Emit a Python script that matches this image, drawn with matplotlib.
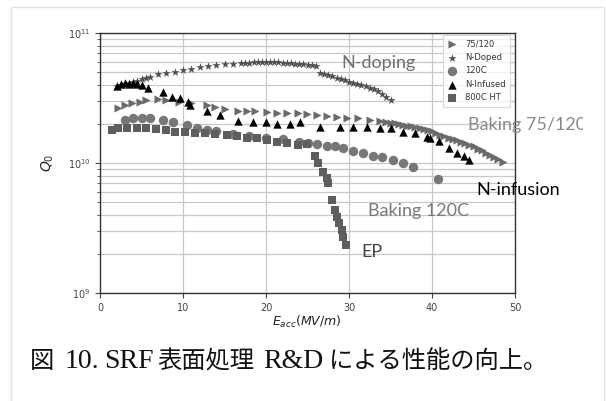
import matplotlib
matplotlib.use("Agg")
import matplotlib.pyplot as plt
from matplotlib.patches import Rectangle
from matplotlib.transforms import Bbox, TransformedBbox
from matplotlib.ticker import LogLocator, NullFormatter

# ---------------- data (Q0 in units of 1e10) ----------------
x_7512 = [2.2, 3.0, 3.8, 4.8, 5.6, 7.0, 8.0, 9.5, 11.0, 12.9, 13.9, 15.0, 16.6, 17.7, 18.7,
          20.1, 21.3, 22.5, 23.9, 24.9, 26.1, 27.3, 28.6, 29.8, 31.1, 32.5, 33.7, 34.5, 35.0,
          35.5, 36.0, 36.5, 37.0, 37.5, 38.0, 38.5, 39.0, 39.5, 40.0, 40.5, 41.0, 41.5, 42.0,
          42.5, 43.0, 43.5, 44.0, 44.5, 45.0, 45.5, 46.0, 46.5, 47.0, 47.5, 48.0, 48.5]
q_7512 = [2.65, 2.8, 2.9, 2.95, 3.05, 3.1, 3.05, 2.95, 2.88, 2.8, 2.7, 2.6, 2.5, 2.51, 2.5,
          2.47, 2.42, 2.42, 2.42, 2.38, 2.34, 2.3, 2.26, 2.22, 2.22, 2.14, 2.1, 2.07, 2.04,
          2.02, 2.0, 1.97, 1.94, 1.91, 1.88, 1.85, 1.82, 1.78, 1.75, 1.71, 1.64, 1.6, 1.56,
          1.53, 1.5, 1.46, 1.42, 1.38, 1.34, 1.29, 1.25, 1.2, 1.16, 1.11, 1.07, 1.02]

x_ndoped = [2.0, 2.5, 3.0, 3.5, 4.0, 4.5, 5.0, 5.5, 6.0, 7.0, 8.0, 9.0, 10.0, 11.0, 12.0, 13.0,
            14.0, 15.0, 16.0, 17.0, 17.5, 18.0, 18.5, 19.0, 19.5, 20.0, 20.5, 21.0, 21.5, 22.0,
            22.5, 23.0, 23.5, 24.0, 24.5, 25.0, 25.5, 26.0, 26.5, 27.0, 27.5, 28.0, 28.5, 29.0,
            29.5, 30.0, 30.5, 31.0, 31.5, 32.0, 32.5, 33.0, 33.5, 34.0, 34.5, 35.0]
q_ndoped = [3.9, 4.0, 4.05, 4.1, 4.2, 4.3, 4.4, 4.5, 4.6, 4.8, 4.95, 5.05, 5.2, 5.3, 5.45, 5.55,
            5.65, 5.75, 5.8, 5.85, 5.9, 5.9, 5.95, 5.95, 6.0, 6.0, 6.0, 5.95, 5.95, 5.9,
            5.9, 5.85, 5.8, 5.8, 5.75, 5.7, 5.65, 5.6, 4.9, 4.82, 4.73, 4.65, 4.5, 4.42,
            4.32, 4.22, 4.12, 4.05, 3.97, 3.88, 3.8, 3.7, 3.55, 3.4, 3.22, 3.05]

x_120c = [3.0, 4.0, 5.0, 6.0, 7.6, 8.8, 10.5, 11.7, 12.9, 14.0, 16.0, 18.0, 20.0, 22.0, 24.0,
          25.0, 26.1, 27.3, 28.3, 29.3, 30.5, 31.7, 32.9, 34.0, 35.3, 36.5, 37.7, 40.7]
q_120c = [2.14, 2.2, 2.2, 2.2, 2.14, 2.05, 1.97, 1.87, 1.8, 1.75, 1.68, 1.62, 1.57, 1.52, 1.46,
          1.43, 1.4, 1.36, 1.34, 1.31, 1.24, 1.19, 1.13, 1.11, 1.05, 1.0, 0.93, 0.75]

x_ninf = [2.0, 2.5, 3.0, 3.5, 4.0, 4.5, 5.0, 5.8, 7.6, 8.7, 9.6, 10.6, 10.8, 12.9, 14.5, 16.6,
          18.4, 20.0, 21.3, 22.9, 24.1, 26.5, 28.9, 30.5, 32.2, 33.7, 35.0, 36.5, 38.0, 39.4,
          39.8, 40.8, 42.0, 43.0, 43.8, 44.5]
q_ninf = [3.9, 4.05, 4.1, 4.05, 4.1, 4.05, 4.0, 3.8, 3.5, 3.2, 3.15, 2.95, 2.8, 2.5, 2.35, 2.1,
          2.05, 2.05, 2.0, 2.0, 2.05, 1.89, 1.9, 1.9, 1.88, 1.87, 1.85, 1.73, 1.7, 1.58,
          1.56, 1.48, 1.3, 1.2, 1.13, 1.05]

x_800 = [1.4, 2.2, 3.2, 4.4, 5.6, 6.8, 8.0, 9.0, 10.2, 11.5, 12.7, 13.9, 15.3, 16.5, 17.7, 18.9,
         20.1, 21.3, 22.5, 23.9, 24.9, 25.9, 26.3, 26.9, 27.3, 27.5, 28.0, 28.3, 28.6, 28.8,
         29.2, 29.3, 29.6]
q_800 = [1.8, 1.85, 1.86, 1.87, 1.85, 1.83, 1.8, 1.74, 1.74, 1.7, 1.69, 1.68, 1.65, 1.6, 1.57, 1.55,
         1.5, 1.45, 1.43, 1.38, 1.4, 1.13, 1.0, 0.853, 0.767, 0.70, 0.519, 0.435, 0.384, 0.345,
         0.305, 0.27, 0.234]

labels = ["75/120", "N-Doped", "120C", "N-Infused", "800C HT"]
x_ticks = [0, 10, 20, 30, 40, 50]

# ---------------- figure ----------------
W, H = 606, 401
fig = plt.figure(figsize=(W / 100, H / 100), dpi=100)
fig.patch.set_facecolor("white")

def fx(px):
    return px / W

def fy(py):
    return 1 - py / H

# light frame around the whole figure
fig.patches.append(Rectangle((fx(11), fy(401) - 0.02), fx(604) - fx(11), fy(7) - fy(401) + 0.02,
                             transform=fig.transFigure, fill=False, edgecolor="#e4e4e4", lw=1.0))

L, R, T, B = 100, 515, 33, 293
ax = fig.add_axes([fx(L), fy(B), fx(R) - fx(L), fy(T) - fy(B)])

ax.set_yscale("log")
ax.set_xlim(0, 50)
ax.set_ylim(1e9, 1e11)

def sc(v):
    return [q * 1e10 for q in v]

ax.scatter(x_7512, sc(q_7512), marker=">", s=34, color="#6a6a6a", label=labels[0], zorder=3, linewidths=0)
ax.scatter(x_ndoped, sc(q_ndoped), marker="*", s=38, color="#505050", label=labels[1], zorder=3, linewidths=0)
ax.scatter(x_120c, sc(q_120c), marker="o", s=46, color="#777777", label=labels[2], zorder=3, linewidths=0)
ax.scatter(x_ninf, sc(q_ninf), marker="^", s=36, color="#000000", label=labels[3], zorder=3, linewidths=0)
ax.scatter(x_800, sc(q_800), marker="s", s=32, color="#5e5e5e", label=labels[4], zorder=3, linewidths=0)

ax.set_xticks(x_ticks)
ax.yaxis.set_major_locator(LogLocator(base=10, numticks=5))
ax.yaxis.set_minor_locator(LogLocator(base=10, subs=range(2, 10), numticks=20))
ax.yaxis.set_minor_formatter(NullFormatter())
ax.grid(True, which="major", color="#c8c8c8", lw=0.9)
ax.grid(True, which="minor", axis="y", color="#c8c8c8", lw=0.9)
ax.set_axisbelow(True)
ax.tick_params(axis="both", which="major", labelsize=7, colors="#444444", length=3.5, width=0.8)
ax.tick_params(axis="y", which="minor", length=2, width=0.6, colors="#444444")
for sp in ax.spines.values():
    sp.set_color("#333333")
    sp.set_linewidth(1.0)

leg = ax.legend(loc="upper right", bbox_to_anchor=(fx(510), fy(35)), bbox_transform=fig.transFigure,
                borderaxespad=0, fontsize=6, frameon=True, fancybox=False, handletextpad=1.0,
                handlelength=1.2, labelspacing=0.55, borderpad=0.5, scatterpoints=1)
leg.get_frame().set_edgecolor("#d0d0d0")
leg.get_frame().set_linewidth(0.8)
for t in leg.get_texts():
    t.set_color("#333333")

# axis labels
fig.text(fx(307), fy(322), r"$E_{acc}(MV/m)$", fontsize=9, ha="center", va="center", color="#222222")
fig.text(fx(48), fy(163), r"$Q_0$", fontsize=10, ha="center", va="center", rotation=90, color="#222222")

# annotations
afont = "Lato"
fig.text(fx(341), fy(63), "N-doping", fontsize=13, family=afont, color="#6e6e6e", ha="left", va="center")
tb = fig.text(fx(468), fy(125), "Baking 75/120", fontsize=13, family=afont, color="#8a8a8a", ha="left", va="center")
tb.set_clip_on(True)
tb.set_clip_box(TransformedBbox(Bbox.from_extents(0, 0, fx(583), 1), fig.transFigure))
fig.text(fx(476), fy(190), "N-infusion", fontsize=13, family=afont, color="#000000", ha="left", va="center")
fig.text(fx(368), fy(211), "Baking 120C", fontsize=13, family=afont, color="#7a7a7a", ha="left", va="center")
fig.text(fx(361), fy(252), "EP", fontsize=13, family=afont, color="#444444", ha="left", va="center")

# caption (CJK part and Latin part in different faces, placed one after another)
cjk = dict(family=["Noto Sans CJK JP"], fontsize=17.5)
lat = dict(family=["Liberation Serif", "Noto Sans CJK JP"], fontsize=20)
segments = [("図", cjk, 10), ("10.", lat, 5), ("SRF", lat, 4), ("表面処理", cjk, 9),
            ("R&D", lat, 5), ("による性能の向上。", cjk, 0)]
renderer = fig.canvas.get_renderer()
xpos = 30
for txt, style, gap in segments:
    t = fig.text(fx(xpos), fy(368), txt, color="#111111", ha="left", va="baseline", **style)
    w = t.get_window_extent(renderer).width
    xpos += w + gap

fig.savefig("out.png", dpi=100)
